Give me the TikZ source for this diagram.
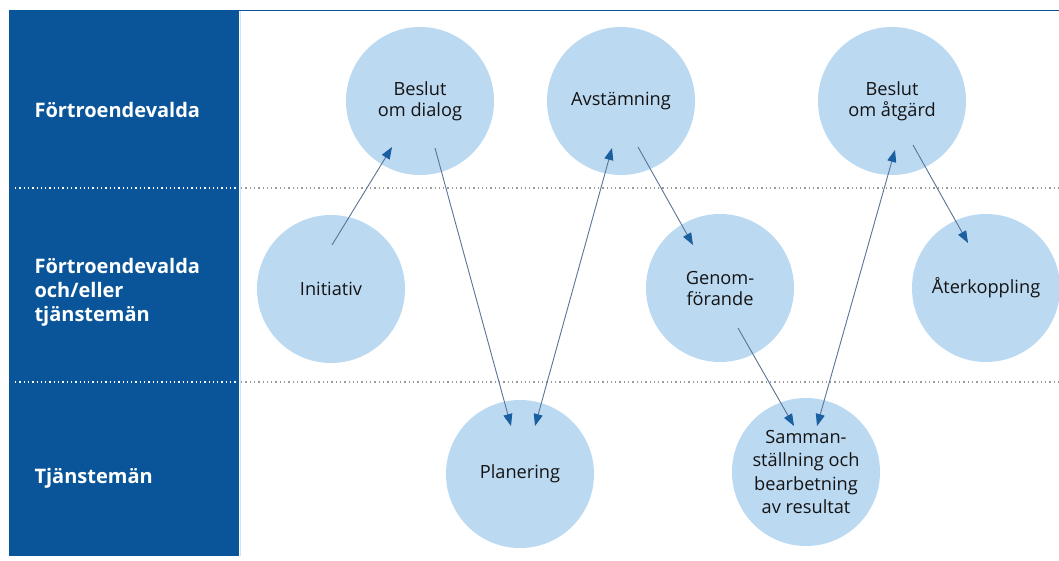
\documentclass[tikz,border=0pt]{standalone}
\usepackage{fontspec}
\setmainfont{Open Sans}
\usetikzlibrary{arrows.meta}
\definecolor{panel}{HTML}{0A5599}
\definecolor{bubble}{HTML}{BCD9F2}
\definecolor{arrowc}{HTML}{5A7496}
\definecolor{tipc}{HTML}{1A5FA0}
\definecolor{dotc}{HTML}{9A9A9A}
\begin{document}
\begin{tikzpicture}[x=1pt,y=-1pt,
  bub/.style={circle,fill=bubble,minimum size=148pt,inner sep=0pt,align=center,font=\fontsize{18.2}{21}\selectfont,text=black!92},
  lane/.style={anchor=west,text=white,align=left,font=\fontsize{20}{24}\selectfont\bfseries},
  tipk/.tip={Triangle[length=12pt,width=9pt,color=tipc]},
  conn/.style={draw=arrowc,line width=0.9pt,-tipk},
  dconn/.style={draw=arrowc,line width=0.9pt,tipk-tipk},
  wdots/.style={white,line width=1.3pt,dash pattern=on 1.3pt off 3pt},
  gdots/.style={dotc,line width=1.3pt,dash pattern=on 1.3pt off 3pt}]
\useasboundingbox (0,0) rectangle (1059,561);
\fill[white] (0,0) rectangle (1059,561);
\fill[panel] (9,10) rectangle (239,556);
\draw[panel,line width=1.5pt] (239,10.5) -- (1059,10.5);
\draw[bubble!70,line width=1pt] (240,11) -- (240,556);
% lanes
\node[lane] (l1) at (31,110) {Förtroendevalda};
\node[lane] (l2) at (31,292) {Förtroendevalda\\och/eller\\tjänstemän};
\node[lane] (l3) at (31,478) {Tjänstemän};
% dotted separators
\draw[wdots] (15,188) -- (239,188);
\draw[gdots] (241,188) -- (1059,188);
\draw[wdots] (15,382) -- (239,382);
\draw[gdots] (241,382) -- (1059,382);
% bubbles
\node[bub] (bd) at (420,101) {Beslut\\om dialog};
\node[bub] (av) at (621,101) {Avstämning};
\node[bub] (ba) at (892,101) {Beslut\\om åtgärd};
\node[bub] (in) at (331,289) {Initiativ};
\node[bub] (ge) at (720,288) {Genom-\\förande};
\node[bub] (ak) at (986,288) {Återkoppling};
\node[bub] (pl) at (520,474) {Planering};
\node[bub,font=\fontsize{18.2}{23.3}\selectfont] (sa) at (806,472) {Samman-\\ställning och\\bearbetning\\av resultat};
% connectors
\coordinate (a1s) at (332,245); \coordinate (a1e) at (392,147);
\coordinate (a2s) at (435,148); \coordinate (a2e) at (511,426);
\coordinate (a3s) at (535,426); \coordinate (a3e) at (612,148);
\coordinate (a4s) at (638,147); \coordinate (a4e) at (693,245);
\coordinate (a5s) at (738,328); \coordinate (a5e) at (794,426);
\coordinate (a6s) at (817,426); \coordinate (a6e) at (895,150);
\coordinate (a7s) at (913,145); \coordinate (a7e) at (968,243);
\draw[conn] (a1s) -- (a1e);
\draw[conn] (a2s) -- (a2e);
\draw[dconn] (a3s) -- (a3e);
\draw[conn] (a4s) -- (a4e);
\draw[conn] (a5s) -- (a5e);
\draw[dconn] (a6s) -- (a6e);
\draw[conn] (a7s) -- (a7e);
\end{tikzpicture}
\end{document}
